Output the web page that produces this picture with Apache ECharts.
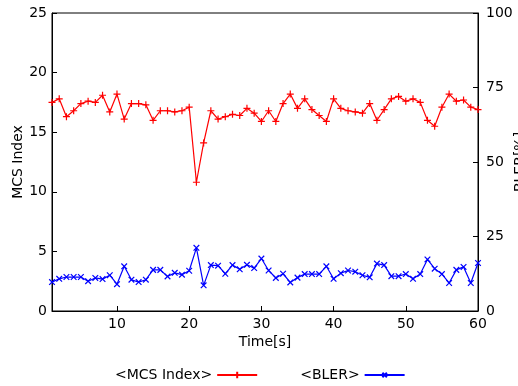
<!DOCTYPE html>
<html>
<head>
<meta charset="utf-8">
<script src="https://cdn.jsdelivr.net/npm/echarts@6/dist/echarts.min.js"></script>
<style>
  html, body { margin: 0; padding: 0; background: #fff; }
  #chart { width: 518px; height: 386px; }
</style>
</head>
<body>
<div id="chart"></div>
<script>
// time in seconds
const times = [1, 2, 3, 4, 5, 6, 7, 8, 9, 10, 11, 12, 13, 14, 15, 16, 17, 18, 19, 20,
  21, 22, 23, 24, 25, 26, 27, 28, 29, 30, 31, 32, 33, 34, 35, 36, 37, 38, 39, 40,
  41, 42, 43, 44, 45, 46, 47, 48, 49, 50, 51, 52, 53, 54, 55, 56, 57, 58, 59, 60];
// MCS Index (left axis)
const mcsIndex = [17.5, 17.8, 16.3, 16.8, 17.4, 17.6, 17.5, 18.1, 16.7, 18.2,
  16.1, 17.4, 17.4, 17.3, 16.0, 16.8, 16.8, 16.7, 16.8, 17.1,
  10.8, 14.1, 16.8, 16.1, 16.3, 16.5, 16.4, 17.0, 16.6, 15.9,
  16.8, 15.9, 17.4, 18.2, 17.0, 17.8, 16.9, 16.4, 15.9, 17.8,
  17.0, 16.8, 16.7, 16.6, 17.4, 16.0, 16.9, 17.8, 18.0, 17.6,
  17.8, 17.5, 16.0, 15.5, 17.1, 18.2, 17.6, 17.7, 17.1, 16.9];
// BLER in % (right axis)
const bler = [9.7, 10.8, 11.4, 11.4, 11.4, 10.0, 11.1, 10.7, 12.0, 9.0,
  15.0, 10.5, 9.7, 10.5, 13.8, 13.8, 11.6, 12.8, 12.2, 13.5,
  21.2, 8.6, 15.4, 15.2, 12.5, 15.4, 14.0, 15.5, 14.4, 17.6,
  13.6, 11.1, 12.5, 9.6, 11.2, 12.4, 12.4, 12.4, 15.0, 10.8,
  12.7, 13.6, 13.2, 12.0, 11.3, 15.9, 15.4, 11.7, 11.7, 12.4,
  10.8, 12.4, 17.3, 14.2, 12.4, 9.4, 13.8, 14.8, 9.4, 16.1];
// tick labels
const xTicks = [10, 20, 30, 40, 50, 60];

const font = 'DejaVu Sans';
const plusPath = 'path://M5,0L5,10M0,5L10,5';

const myChart = echarts.init(document.getElementById('chart'));
const option = {
  animation: false,
  textStyle: { fontFamily: font },
  grid: {
    left: 52, right: 40, top: 13, bottom: 75,
    containLabel: false,
    outerBoundsMode: 'none',
    show: true, borderColor: '#000', borderWidth: 1
  },
  legend: {
    left: 110, top: 363,
    align: 'right',
    itemWidth: 40, itemHeight: 8, itemGap: 42,
    textStyle: { fontFamily: font, fontSize: 14, color: '#000' },
    data: ['<MCS Index>', '<BLER>']
  },
  xAxis: {
    type: 'value',
    min: 1, max: 60,
    name: 'Time[s]',
    nameLocation: 'middle',
    nameGap: 24,
    nameMoveOverlap: false,
    nameTextStyle: { fontFamily: font, fontSize: 14, color: '#000' },
    axisLine: { lineStyle: { color: '#000', width: 1 } },
    axisTick: { inside: true, length: 5, customValues: xTicks, lineStyle: { color: '#000' } },
    axisLabel: { customValues: xTicks, fontFamily: font, fontSize: 14, color: '#000', margin: 6 },
    splitLine: { show: false }
  },
  yAxis: [
    {
      type: 'value',
      min: 0, max: 25, interval: 5,
      name: 'MCS Index',
      nameLocation: 'middle',
      nameGap: 27,
      nameMoveOverlap: false,
      nameTextStyle: { fontFamily: font, fontSize: 14, color: '#000' },
      axisLine: { show: true, lineStyle: { color: '#000', width: 1 } },
      axisTick: { show: true, inside: true, length: 5, lineStyle: { color: '#000' } },
      axisLabel: { fontFamily: font, fontSize: 14, color: '#000', margin: 5 },
      splitLine: { show: false }
    },
    {
      type: 'value',
      position: 'right',
      min: 0, max: 100, interval: 25,
      name: 'BLER[%]',
      nameLocation: 'middle',
      nameRotate: 90,
      nameGap: 35,
      nameMoveOverlap: false,
      nameTextStyle: { fontFamily: font, fontSize: 14, color: '#000' },
      axisLine: { show: true, lineStyle: { color: '#000', width: 1 } },
      axisTick: { show: true, inside: true, length: 5, lineStyle: { color: '#000' } },
      axisLabel: { fontFamily: font, fontSize: 14, color: '#000', margin: 8 },
      splitLine: { show: false }
    }
  ],
  series: [
    {
      name: '<MCS Index>',
      type: 'line',
      yAxisIndex: 0,
      data: times.map((t, i) => [t, mcsIndex[i]]),
      symbol: plusPath,
      symbolSize: 7,
      lineStyle: { color: '#ff0000', width: 1.2 },
      itemStyle: { color: '#ff0000', borderColor: '#ff0000', borderWidth: 1.2 }
    },
    {
      name: '<BLER>',
      type: 'line',
      yAxisIndex: 1,
      data: times.map((t, i) => [t, bler[i]]),
      symbol: plusPath,
      symbolRotate: 45,
      symbolSize: 8,
      lineStyle: { color: '#0000ff', width: 1.2 },
      itemStyle: { color: '#0000ff', borderColor: '#0000ff', borderWidth: 1.2 }
    }
  ]
};
myChart.setOption(option);
</script>
</body>
</html>
